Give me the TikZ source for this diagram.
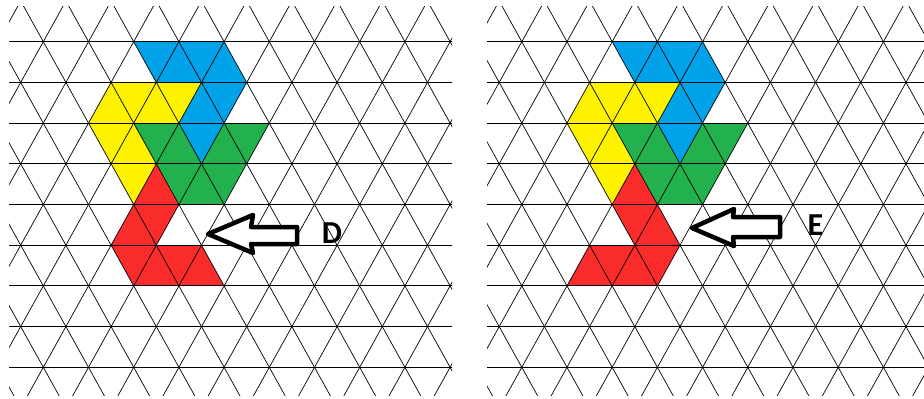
\documentclass[tikz,border=0pt]{standalone}
\usepackage{fontspec}
\newfontfamily\labelfont{Carlito}
\definecolor{pieceblue}{HTML}{00A2E8}
\definecolor{pieceyellow}{HTML}{FFF200}
\definecolor{piecegreen}{HTML}{22B14C}
\definecolor{piecered}{HTML}{F92B2B}

% triangular lattice, in lattice units
\newcommand{\trianglegrid}{%
  \foreach \m in {-14,-12,...,32} {
    \draw[gridline] (\m-2,-2) -- (\m+14,14);
    \draw[gridline] (\m+2,-2) -- (\m-14,14);
  }
  \foreach \k in {0,...,8}
    \draw[rowline] (-4,\k) -- (22,\k);
}

\begin{document}
\begin{tikzpicture}[
    x=1pt, y=-1pt,
    gridline/.style={black, line width=0.7pt},
    rowline/.style={black, line width=1pt},
    hollowarrow/.style={draw=black, line width=4.5pt, line join=round, fill=white},
    letter/.style={font=\labelfont\bfseries\fontsize{32}{32}\selectfont, inner sep=0pt},
    lattice/.style={x=22.6pt, y=-40.7pt}
]
\useasboundingbox (0,0) rectangle (924,399);

% Left panel
\begin{scope}
  \clip (9,6) rectangle (452,395);
  \begin{scope}[shift={(43.3pt,-41.7pt)}, lattice]
    \fill[pieceblue] (4,0) -- (8,0) -- (9,1) -- (8,2) -- (7,3) -- (6,2) -- (7,1) -- (5,1) -- cycle;
    \fill[pieceyellow] (3,1) -- (7,1) -- (6,2) -- (4,2) -- (5,3) -- (4,4) -- (3,3) -- (2,2) -- cycle;
    \fill[piecegreen] (4,2) -- (6,2) -- (7,3) -- (8,2) -- (10,2) -- (9,3) -- (8,4) -- (6,4) -- (5,3) -- cycle;
    \fill[piecered] (5,3) -- (6,4) -- (5,5) -- (7,5) -- (8,6) -- (4,6) -- (3,5) -- (4,4) -- cycle;
    \trianglegrid
  \end{scope}
\end{scope}

% Right panel
\begin{scope}
  \clip (487,6) rectangle (924,395);
  \begin{scope}[shift={(521.8pt,-41.7pt)}, lattice]
    \fill[pieceblue] (4,0) -- (8,0) -- (9,1) -- (8,2) -- (7,3) -- (6,2) -- (7,1) -- (5,1) -- cycle;
    \fill[pieceyellow] (3,1) -- (7,1) -- (6,2) -- (4,2) -- (5,3) -- (4,4) -- (3,3) -- (2,2) -- cycle;
    \fill[piecegreen] (4,2) -- (6,2) -- (7,3) -- (8,2) -- (10,2) -- (9,3) -- (8,4) -- (6,4) -- (5,3) -- cycle;
    \fill[piecered] (5,3) -- (6,4) -- (7,5) -- (6,6) -- (2,6) -- (3,5) -- (5,5) -- (4,4) -- cycle;
    \trianglegrid
  \end{scope}
\end{scope}

% Arrows and labels
\draw[hollowarrow] (208,234) -- (253,215) -- (251,227) -- (297,227) -- (297,244) -- (251,244) -- (253,253) -- cycle;
\node[letter] (labelD) at (332,233) {D};

\draw[hollowarrow] (692,228) -- (734,209) -- (733,217) -- (780,217) -- (780,237) -- (733,237) -- (734,246) -- cycle;
\node[letter] (labelE) at (815.5,225.5) {E};

\end{tikzpicture}
\end{document}
